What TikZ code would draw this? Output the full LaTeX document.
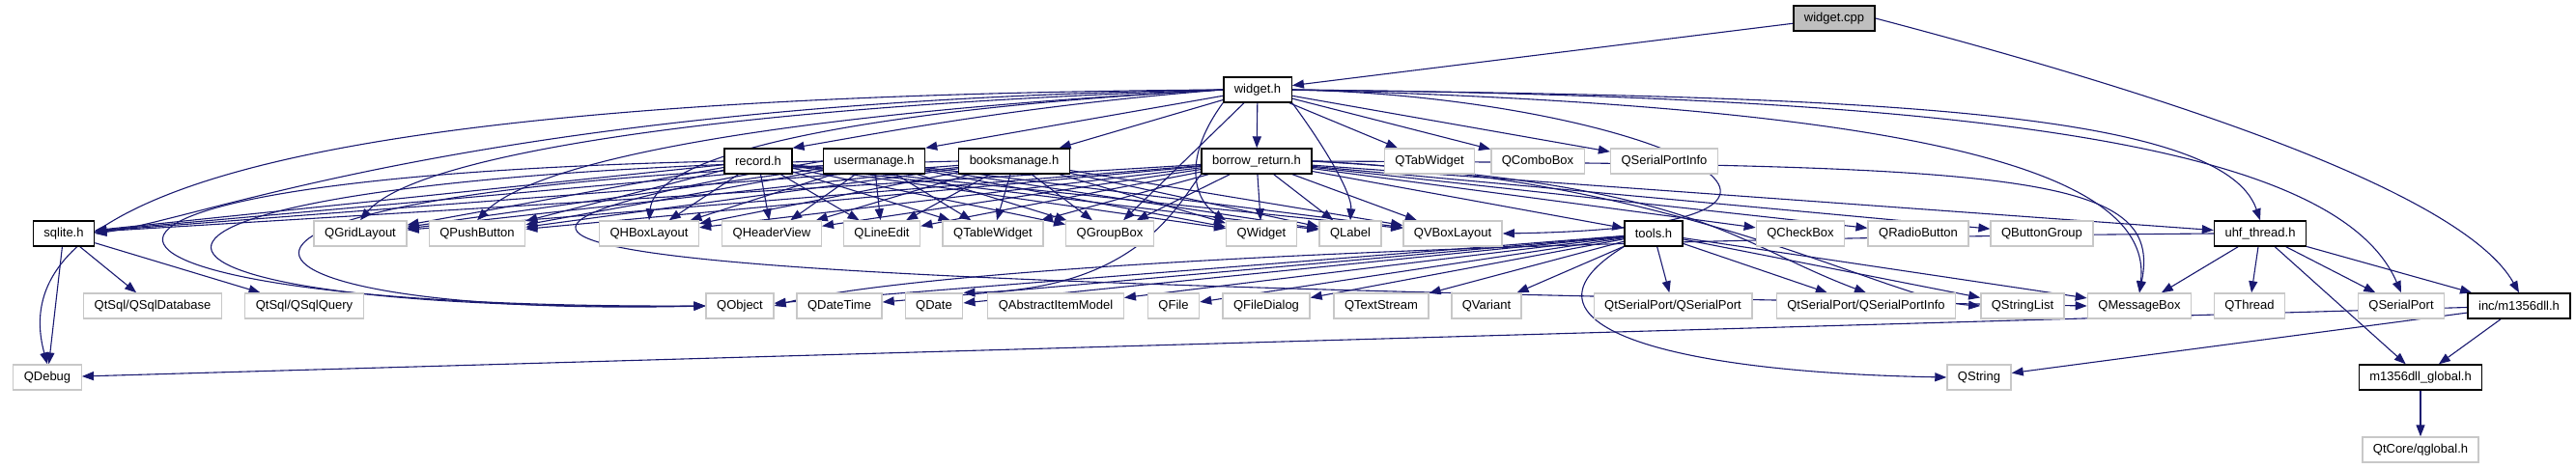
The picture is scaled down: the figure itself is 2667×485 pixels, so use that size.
\documentclass[tikz,border=0pt]{standalone}
\usepackage{fontspec}
\setmainfont{Liberation Sans}
\usepackage{tikz}
\usetikzlibrary{arrows.meta,backgrounds}
\definecolor{edgeblue}{HTML}{191970}
\definecolor{boxgray}{HTML}{BFBFBF}
\definecolor{extgray}{HTML}{C8C8C8}

\begin{document}
\begin{tikzpicture}[
  x=1pt, y=-1pt,
  font=\fontsize{13}{15}\selectfont,
  proj/.style={draw=black, line width=1.4pt, fill=white, minimum height=26pt, inner xsep=11pt, inner ysep=0pt},
  ext/.style={proj, draw=extgray},
  src/.style={proj, fill=boxgray},
  arr/.style={-{Triangle[length=12pt,width=9pt]}, draw=edgeblue, line width=1.1pt},
]
\useasboundingbox (0,0) rectangle (2667,485);

% --- Sources ---
\node[src]  (cpp) at (1899,19) {widget.cpp};
\node[proj] (wh)  at (1302,93) {widget.h};

% --- Headers included by widget.h ---
\node[proj] (rec) at (785,167)  {record.h};
\node[proj] (usr) at (905,167)  {usermanage.h};
\node[proj] (bks) at (1050,167) {booksmanage.h};
\node[proj] (brw) at (1301,167) {borrow\_return.h};
\node[ext]  (tab) at (1480,167) {QTabWidget};
\node[ext]  (cmb) at (1592,167) {QComboBox};
\node[ext]  (spi) at (1723,167) {QSerialPortInfo};

% --- Widgets and helpers ---
\node[proj] (sql)   at (66,242)   {sqlite.h};
\node[ext]  (grid)  at (373,242)  {QGridLayout};
\node[ext]  (push)  at (494,242)  {QPushButton};
\node[ext]  (hbox)  at (672,242)  {QHBoxLayout};
\node[ext]  (hdr)   at (799,242)  {QHeaderView};
\node[ext]  (ledit) at (913,242)  {QLineEdit};
\node[ext]  (tbl)   at (1028,242) {QTableWidget};
\node[ext]  (grp)   at (1149,242) {QGroupBox};
\node[ext]  (wdg)   at (1306,242) {QWidget};
\node[ext]  (lbl)   at (1398,242) {QLabel};
\node[ext]  (vbox)  at (1504,242) {QVBoxLayout};
\node[proj] (tools) at (1712,242) {tools.h};
\node[ext]  (chk)   at (1864,242) {QCheckBox};
\node[ext]  (radio) at (1986,242) {QRadioButton};
\node[ext]  (bgrp)  at (2114,242) {QButtonGroup};
\node[proj] (uhf)   at (2340,242) {uhf\_thread.h};

% --- Qt core, sql and serial ---
\node[ext]  (sqldb) at (158,317)  {QtSql/QSqlDatabase};
\node[ext]  (sqlq)  at (315,317)  {QtSql/QSqlQuery};
\node[ext]  (obj)   at (766,317)  {QObject};
\node[ext]  (dtm)   at (869,317)  {QDateTime};
\node[ext]  (date)  at (967,317)  {QDate};
\node[ext]  (aim)   at (1093,317) {QAbstractItemModel};
\node[ext]  (qfile) at (1215,317) {QFile};
\node[ext]  (fdlg)  at (1311,317) {QFileDialog};
\node[ext]  (tstr)  at (1430,317) {QTextStream};
\node[ext]  (var)   at (1539,317) {QVariant};
\node[ext]  (qsp)   at (1732,317) {QtSerialPort/QSerialPort};
\node[ext]  (qspi)  at (1932,317) {QtSerialPort/QSerialPortInfo};
\node[ext]  (slist) at (2094,317) {QStringList};
\node[ext]  (mbox)  at (2215,317) {QMessageBox};
\node[ext]  (thr)   at (2329,317) {QThread};
\node[ext]  (sport) at (2486,317) {QSerialPort};
\node[proj] (dll)   at (2608,317) {inc/m1356dll.h};

\node[ext]  (dbg)   at (49,391)   {QDebug};
\node[ext]  (str)   at (2049,391) {QString};
\node[proj] (glob)  at (2506,391) {m1356dll\_global.h};
\node[ext]  (qglob) at (2506,466) {QtCore/qglobal.h};

\begin{scope}[on background layer]
% --- widget.cpp ---
\draw[arr] (cpp) -- (wh);
\draw[arr] (cpp.east) .. controls (2250,100) and (2550,200) .. (dll.north);

% --- widget.h ---
\draw[arr] (wh.west) .. controls (300,100) and (0,200) .. (dbg.north);
\draw[arr] (wh.west) .. controls (500,105) and (220,225) .. (sql.east);
\draw[arr] (wh.west) .. controls (750,110) and (430,160) .. (grid.north);
\draw[arr] (wh.west) .. controls (850,115) and (560,160) .. (push.north);
\draw[arr] (wh.west) .. controls (950,110) and (680,150) .. (hbox.north);
\draw[arr] (wh.west) .. controls (1050,110) and (900,140) .. (rec.north east);
\draw[arr] (wh) -- (usr.north east);
\draw[arr] (wh) -- (bks);
\draw[arr] (wh) -- (brw);
\draw[arr] (wh) -- (grp);
\draw[arr] (wh.south west) .. controls (1220,170) and (1240,210) .. (wdg.north west);
\draw[arr] (wh.south east) .. controls (1370,150) and (1400,200) .. (lbl.north);
\draw[arr] (wh.east) .. controls (1700,100) and (2000,235) .. (vbox.east);
\draw[arr] (wh) -- (tab);
\draw[arr] (wh) -- (cmb);
\draw[arr] (wh) -- (spi);
\draw[arr] (wh.east) .. controls (1900,100) and (2300,110) .. (uhf.north);
\draw[arr] (wh.east) .. controls (2000,110) and (2230,180) .. (mbox.north);
\draw[arr] (wh.east) .. controls (2050,100) and (2420,150) .. (sport.north);

% --- record.h ---
\draw[arr] (rec) -- (sql);
\draw[arr] (rec) -- (grid);
\draw[arr] (rec) -- (push);
\draw[arr] (rec) -- (hbox);
\draw[arr] (rec) -- (hdr);
\draw[arr] (rec) -- (ledit);
\draw[arr] (rec) -- (tbl);
\draw[arr] (rec) -- (grp);
\draw[arr] (rec) -- (wdg);
\draw[arr] (rec) -- (lbl);
\draw[arr] (rec) -- (vbox);
\draw[arr] (rec.west) .. controls (-60,185) and (20,320) .. (obj.west);

% --- usermanage.h ---
\draw[arr] (usr) -- (sql);
\draw[arr] (usr) -- (grid);
\draw[arr] (usr) -- (push);
\draw[arr] (usr) -- (hbox);
\draw[arr] (usr) -- (hdr);
\draw[arr] (usr) -- (ledit);
\draw[arr] (usr) -- (tbl);
\draw[arr] (usr) -- (grp);
\draw[arr] (usr) -- (wdg);
\draw[arr] (usr) -- (lbl);
\draw[arr] (usr) -- (vbox);
\draw[arr] (usr.west) .. controls (0,190) and (60,325) .. (obj.west);
\draw[arr] (usr.west) .. controls (300,260) and (600,290) .. (mbox.west);

% --- booksmanage.h ---
\draw[arr] (bks) -- (sql);
\draw[arr] (bks) -- (grid);
\draw[arr] (bks) -- (push);
\draw[arr] (bks) -- (hbox);
\draw[arr] (bks) -- (hdr);
\draw[arr] (bks) -- (ledit);
\draw[arr] (bks) -- (tbl);
\draw[arr] (bks) -- (grp);
\draw[arr] (bks) -- (wdg);
\draw[arr] (bks) -- (lbl);
\draw[arr] (bks) -- (vbox);
\draw[arr] (bks.west) .. controls (80,190) and (180,330) .. (obj.west);

% --- borrow_return.h ---
\draw[arr] (brw) -- (sql);
\draw[arr] (brw) -- (grid);
\draw[arr] (brw) -- (push);
\draw[arr] (brw) -- (hbox);
\draw[arr] (brw) -- (hdr);
\draw[arr] (brw) -- (ledit);
\draw[arr] (brw) -- (tbl);
\draw[arr] (brw) -- (grp);
\draw[arr] (brw) -- (wdg);
\draw[arr] (brw) -- (lbl);
\draw[arr] (brw) -- (vbox);
\draw[arr] (brw) -- (tools);
\draw[arr] (brw) -- (chk);
\draw[arr] (brw) -- (radio);
\draw[arr] (brw) -- (bgrp);
\draw[arr] (brw) -- (uhf);
\draw[arr] (brw.south west) .. controls (1220,210) and (1180,300) .. (date.north east);
\draw[arr] (brw.east) .. controls (1760,190) and (1790,250) .. (qspi.north);
\draw[arr] (brw.east) .. controls (1750,185) and (1950,310) .. (slist.west);
\draw[arr] (brw.east) .. controls (2100,170) and (2240,180) .. (mbox.north);

% --- tools.h ---
\draw[arr] (tools) -- (obj);
\draw[arr] (tools) -- (dtm);
\draw[arr] (tools) -- (date);
\draw[arr] (tools) -- (aim);
\draw[arr] (tools) -- (qfile);
\draw[arr] (tools) -- (fdlg);
\draw[arr] (tools) -- (tstr);
\draw[arr] (tools) -- (var);
\draw[arr] (tools) -- (qsp);
\draw[arr] (tools) -- (qspi);
\draw[arr] (tools) -- (slist);
\draw[arr] (tools) -- (mbox);
\draw[arr] (tools.south west) .. controls (1560,330) and (1700,385) .. (str.west);

% --- uhf_thread.h ---
\draw[arr] (uhf.west) .. controls (1300,250) and (900,290) .. (obj.east);
\draw[arr] (uhf) -- (mbox);
\draw[arr] (uhf) -- (thr);
\draw[arr] (uhf) -- (sport);
\draw[arr] (uhf) -- (dll);
\draw[arr] (uhf) -- (glob);

% --- sqlite.h, inc/m1356dll.h ---
\draw[arr] (sql) -- (sqldb);
\draw[arr] (sql) -- (sqlq);
\draw[arr] (sql) -- (dbg);
\draw[arr] (dll) -- (dbg);
\draw[arr] (dll) -- (str);
\draw[arr] (dll) -- (glob);
\draw[arr] (glob) -- (qglob);
\end{scope}
\end{tikzpicture}
\end{document}
